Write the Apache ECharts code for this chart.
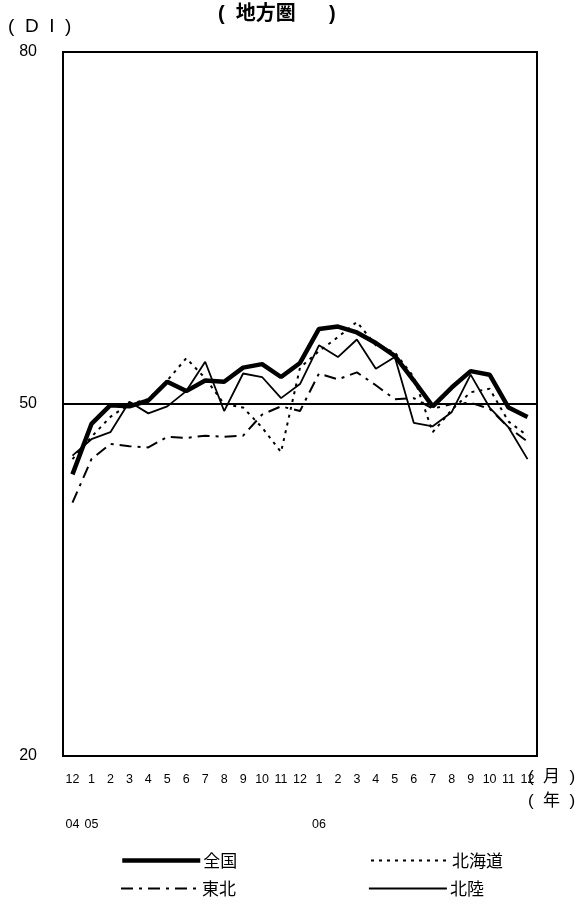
<!DOCTYPE html>
<html>
<head>
<meta charset="utf-8">
<script src="https://cdn.jsdelivr.net/npm/echarts@6/dist/echarts.min.js"></script>
<style>
  html, body { margin: 0; padding: 0; background: #fff; }
  #chart { width: 579px; height: 911px; }
</style>
</head>
<body>
<div id="chart"></div>
<script>
// Month labels: Dec 2004 through Dec 2006
const months = ['12','1','2','3','4','5','6','7','8','9','10','11','12',
                '1','2','3','4','5','6','7','8','9','10','11','12'];
// Year labels placed under the first month of each year
const years = ['04','05','','','','','','','','','','','',
               '06','','','','','','','','','','',''];
const yTicks = [20, 50, 80];

// DI values by region
const zenkoku  = [44.0,48.3,49.9,49.8,50.3,51.9,51.1,52.0,51.9,53.1,53.4,52.3,53.5,
                  56.4,56.6,56.1,55.2,54.1,52.0,49.8,51.4,52.8,52.5,49.7,48.9];
const hokkaido = [45.3,47.2,48.9,50.0,50.4,52.0,53.9,52.2,50.0,49.7,48.0,45.9,53.1,
                  54.5,55.7,57.0,55.0,54.4,52.3,47.6,49.5,51.0,51.3,48.5,47.3];
const tohoku   = [41.6,45.3,46.6,46.4,46.3,47.2,47.1,47.3,47.2,47.3,49.1,49.8,49.4,
                  52.6,52.1,52.7,51.6,50.4,50.5,49.6,50.0,50.1,49.6,48.0,46.8];
const hokuriku = [45.6,47.0,47.6,50.2,49.2,49.8,51.1,53.6,49.4,52.6,52.3,50.5,51.7,
                  55.0,54.0,55.5,53.0,54.0,48.4,48.1,49.3,52.5,49.7,48.0,45.3];

const FONT = '"Liberation Sans", Arial, "Noto Sans CJK JP", sans-serif';
const CJK = '"Noto Sans CJK JP", "Noto Sans CJK SC", sans-serif';

// Line styles shared by each series and its key entry
const styles = {
  '全国':   { color: '#000', width: 4.5 },
  '北海道': { color: '#000', width: 2, type: [3, 5] },
  '東北':   { color: '#000', width: 2, type: [12, 6, 3, 6] },
  '北陸':   { color: '#000', width: 1.8 }
};

const chart = echarts.init(document.getElementById('chart'), null, { renderer: 'canvas' });

// One legend block per entry so each sits in its own cell of the 2x2 key
function legendAt(name, left, top) {
  return {
    data: [name], left: left, top: top, orient: 'horizontal',
    itemWidth: 78, itemHeight: 12, itemGap: 0, padding: 0,
    selectedMode: false,
    itemStyle: { opacity: 0, borderWidth: 0 },
    lineStyle: Object.assign({}, styles[name]),
    textStyle: { fontFamily: CJK, fontSize: 17, color: '#000', padding: [0, 0, 0, -2] }
  };
}

function lineSeries(name, data, z) {
  return {
    name: name, type: 'line', data: data, symbol: 'none', z: z,
    lineStyle: Object.assign({}, styles[name]), itemStyle: { color: '#000' }
  };
}

const option = {
  animation: false,
  backgroundColor: '#fff',
  grid: {
    left: 63, right: 42, top: 52, bottom: 155,
    show: true, borderColor: '#000', borderWidth: 2, backgroundColor: 'transparent'
  },
  xAxis: [
    {
      type: 'category', data: months, boundaryGap: true, position: 'bottom',
      axisLine: { show: true, lineStyle: { color: '#000', width: 2 } },
      axisTick: { show: false },
      axisLabel: { interval: 0, margin: 17, fontSize: 12.5, color: '#000', fontFamily: FONT },
      splitLine: { show: false }
    },
    {
      type: 'category', data: years, boundaryGap: true, position: 'bottom',
      axisLine: { show: false }, axisTick: { show: false },
      axisLabel: { interval: 0, margin: 62, fontSize: 12.5, color: '#000', fontFamily: FONT },
      splitLine: { show: false }
    }
  ],
  yAxis: {
    type: 'value', min: yTicks[0], max: yTicks[2], interval: 30,
    axisLine: { show: true, lineStyle: { color: '#000', width: 2 } },
    axisTick: { show: false },
    axisLabel: { margin: 26, fontSize: 16, color: '#000', fontFamily: FONT },
    splitLine: { show: true, lineStyle: { color: '#000', width: 2 } }
  },
  legend: [
    legendAt('全国', 120, 852),
    legendAt('北海道', 370, 852),
    legendAt('東北', 120, 880),
    legendAt('北陸', 368, 880)
  ],
  graphic: [
    { type: 'text', left: 8, top: 17, style: { text: '(  D  I  )', font: '19px ' + FONT, fill: '#000' } },
    { type: 'text', left: 218, top: 4, style: { text: '(  地方圏      )', font: 'bold 20px ' + FONT, fill: '#000' } },
    { type: 'text', left: 528, top: 769, style: { text: '(  月  )', font: '17px ' + FONT, fill: '#000' } },
    { type: 'text', left: 528, top: 793, style: { text: '(  年  )', font: '17px ' + FONT, fill: '#000' } }
  ],
  series: [
    lineSeries('全国', zenkoku, 5),
    lineSeries('北海道', hokkaido, 3),
    lineSeries('東北', tohoku, 3),
    lineSeries('北陸', hokuriku, 4)
  ]
};

chart.setOption(option);
</script>
</body>
</html>
